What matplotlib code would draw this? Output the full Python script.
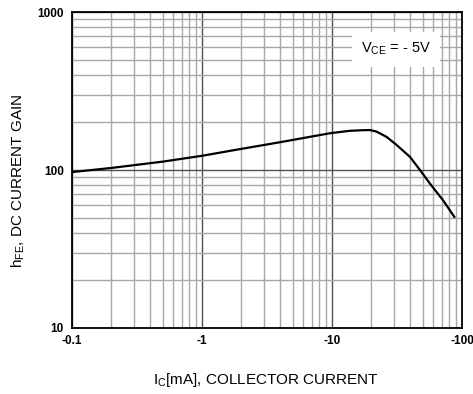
import numpy as np
import matplotlib
matplotlib.use('Agg')
import matplotlib.pyplot as plt
from matplotlib.ticker import FixedLocator, FixedFormatter, NullFormatter
from matplotlib.patches import Rectangle

plt.rcParams['font.family'] = ['Liberation Sans', 'DejaVu Sans']
plt.rcParams['mathtext.default'] = 'regular'

# datos (Ic en mA, valor absoluto)
ic = [0.1, 0.2, 0.5, 1, 2, 4, 9.7, 13.7, 17, 19.6, 22, 26.3, 31.4, 39.8, 47.5, 56.7, 71.8, 87.3]
hfe = [97, 103, 113, 123, 136, 150, 171, 177, 178.5, 179, 175, 162, 144, 121, 100, 82, 64, 50.5]

x_ticks = [0.1, 1, 10, 100]
x_labels = ['-0.1', '-1', '-10', '-100']
y_ticks = [10, 100, 1000]
y_labels = ['10', '100', '1000']

fig = plt.figure(figsize=(4.73, 3.94), dpi=100)
ax = fig.add_axes([72/473, 66/394, 390/473, 316/394])

ax.set_xscale('log')
ax.set_yscale('log')
ax.set_xlim(0.1, 100)
ax.set_ylim(10, 1000)

# grilla
minor_x = [m*10.0**e for e in (-1, 0, 1) for m in range(2, 10)]
minor_y = [m*10.0**e for e in (1, 2) for m in range(2, 10)]
ax.xaxis.set_major_locator(FixedLocator(x_ticks))
ax.xaxis.set_major_formatter(FixedFormatter(x_labels))
ax.xaxis.set_minor_locator(FixedLocator(minor_x))
ax.xaxis.set_minor_formatter(NullFormatter())
ax.yaxis.set_major_locator(FixedLocator(y_ticks))
ax.yaxis.set_major_formatter(FixedFormatter(y_labels))
ax.yaxis.set_minor_locator(FixedLocator(minor_y))
ax.yaxis.set_minor_formatter(NullFormatter())
ax.grid(which='minor', color='#a8a8a8', lw=1.0)
ax.grid(which='major', color='#505050', lw=1.0)
ax.tick_params(which='both', length=0)
ax.tick_params(axis='x', pad=5, labelsize=8.5)
ax.tick_params(axis='y', pad=6, labelsize=8.5)
for lab in ax.get_xticklabels() + ax.get_yticklabels():
    lab.set_fontweight('bold')
for s in ax.spines.values():
    s.set_linewidth(1.3)

ax.plot(ic, hfe, color='black', lw=1.6, zorder=3, solid_joinstyle='round')

# recuadro blanco con la condicion
ax.add_patch(Rectangle((0.718, 0.826), 0.226, 0.111, transform=ax.transAxes,
                       fc='white', ec='none', zorder=2.5))
ax.text(0.831, 0.883, r'$V_{CE}$ = - 5V', transform=ax.transAxes, fontsize=10.5,
        ha='center', va='center', zorder=4)

ax.set_xlabel(r'I$_C$[mA], COLLECTOR CURRENT', fontsize=11, va='center')
ax.xaxis.set_label_coords(0.497, -0.165)
ax.set_ylabel(r'h$_{FE}$, DC CURRENT GAIN', fontsize=11, va='center')
ax.yaxis.set_label_coords(-0.137, 0.465)

fig.savefig('out.png', dpi=100)
